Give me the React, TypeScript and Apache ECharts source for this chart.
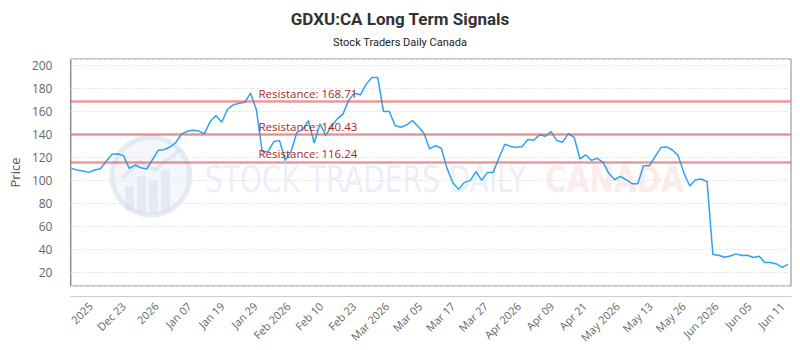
import React, { useEffect, useRef } from 'react';
import * as echarts from 'echarts';

const prices = [
  110.5, 109.1, 108.2, 107.0, 109.1, 110.2, 116.5, 122.7, 123.3, 121.6,
  110.5, 113.4, 111.0, 109.9, 118.0, 126.2, 126.7, 129.1, 132.6, 140.2,
  142.8, 143.7, 143.1, 140.5, 151.3, 156.5, 150.7, 162.0, 165.8, 167.3,
  168.1, 176.0, 161.5, 125.0, 125.0, 133.7, 134.9, 117.4, 125.0, 141.9,
  144.3, 152.1, 132.6, 149.2, 139.3, 147.2, 153.6, 158.0, 170.2, 176.0,
  174.6, 183.9, 189.7, 189.7, 160.0, 160.0, 147.8, 146.3, 148.4, 152.2,
  146.9, 141.1, 127.4, 130.3, 128.0, 110.5, 98.0, 92.2, 98.3, 99.8,
  107.6, 100.1, 107.0, 107.0, 120.0, 131.5, 129.5, 128.6, 129.5, 135.6,
  135.0, 139.7, 138.5, 142.6, 134.7, 133.3, 140.8, 137.6, 118.7, 122.2,
  117.5, 119.3, 115.8, 106.2, 100.6, 103.5, 100.6, 97.1, 97.1, 112.8,
  112.8, 120.7, 128.6, 129.2, 126.5, 121.6, 106.2, 95.1, 100.6, 101.2,
  98.9, 35.4, 34.8, 33.1, 34.2, 36.0, 34.5, 34.8, 32.8, 34.0,
  28.4, 28.4, 27.2, 24.3, 26.9,
];

const tickLabels = [
  '2025', 'Dec 23', '2026', 'Jan 07', 'Jan 19', 'Jan 29', 'Feb 2026', 'Feb 10',
  'Feb 23', 'Mar 2026', 'Mar 05', 'Mar 17', 'Mar 27', 'Apr 2026', 'Apr 09',
  'Apr 21', 'May 2026', 'May 13', 'May 26', 'Jun 2026', 'Jun 05', 'Jun 11',
];

const firstTick = 3.3;
const tickStep = 5.7;
const tickValues = tickLabels.map((_, k) => +(firstTick + tickStep * k).toFixed(3));

const resistance = [168.71, 140.43, 116.24];

const FONT = '"Open Sans", sans-serif';
const WM_FONT = '"DejaVu Sans Condensed", "Liberation Sans Narrow", sans-serif';

export default function App() {
  const ref = useRef<HTMLDivElement>(null);
  useEffect(() => {
    if (!ref.current) return;
    const chart = echarts.init(ref.current, undefined, { renderer: 'svg' });
    const labelMap = new Map<number, string>();
    tickValues.forEach((v, k) => labelMap.set(v, tickLabels[k]));
    const n = prices.length;
    chart.setOption({
      animation: false,
      backgroundColor: '#fff',
      textStyle: { fontFamily: FONT },
      title: {
        left: 'center',
        top: 5,
        text: 'GDXU:CA Long Term Signals',
        subtext: 'Stock Traders Daily Canada',
        itemGap: 10,
        textStyle: { fontFamily: 'Roboto, sans-serif', fontSize: 17, fontWeight: 'bold', color: '#333' },
        subtextStyle: { fontFamily: 'Roboto, sans-serif', fontSize: 11, color: '#222' },
      },
      grid: {
        left: 67, top: 59, width: 724, height: 227,
        show: true, borderColor: '#888', borderWidth: 1, backgroundColor: 'transparent',
      },
      graphic: [
        {
          type: 'group', z: 1, silent: true,
          children: [
            { type: 'circle', shape: { cx: 151, cy: 176, r: 39 }, style: { fill: 'rgba(218,226,240,0.3)', stroke: 'rgba(208,218,235,0.5)', lineWidth: 5 } },
            { type: 'rect', shape: { x: 125, y: 186, width: 9, height: 24 }, style: { fill: 'rgba(205,215,235,0.4)' } },
            { type: 'rect', shape: { x: 137, y: 176, width: 9, height: 36 }, style: { fill: 'rgba(205,215,235,0.4)' } },
            { type: 'rect', shape: { x: 149, y: 180, width: 9, height: 33 }, style: { fill: 'rgba(205,215,235,0.4)' } },
            { type: 'rect', shape: { x: 161, y: 170, width: 9, height: 42 }, style: { fill: 'rgba(205,215,235,0.4)' } },
            { type: 'polyline', shape: { points: [[122, 178], [140, 162], [155, 170], [180, 150]] }, style: { stroke: 'rgba(205,215,235,0.45)', lineWidth: 4, fill: 'none' } },
            { type: 'text', x: 205, y: 179, style: { text: 'STOCK TRADERS DAILY', font: '38px ' + WM_FONT, fill: 'rgba(210,220,236,0.45)', verticalAlign: 'middle', align: 'left' }, scaleX: 0.82 },
            { type: 'text', x: 545, y: 179, style: { text: 'CANADA', font: 'bold 38px ' + WM_FONT, fill: 'rgba(248,205,205,0.4)', verticalAlign: 'middle', align: 'left' }, scaleX: 0.86 },
          ],
        },
      ],
      xAxis: {
        type: 'value',
        min: -0.17,
        max: n - 1 + 0.52,
        offset: 10,
        axisLine: { show: true, lineStyle: { color: '#ccc' } },
        axisTick: { show: false },
        splitLine: { show: false },
        axisLabel: {
          customValues: tickValues,
          rotate: 45,
          fontSize: 11,
          color: '#666',
          margin: 8,
          formatter: (v: number) => labelMap.get(+v.toFixed(3)) ?? '',
        },
      },
      yAxis: {
        type: 'value',
        min: 8,
        max: 205.8,
        splitNumber: 10,
        offset: 10,
        name: 'Price',
        nameLocation: 'middle',
        nameGap: 34,
        nameTextStyle: { fontSize: 13, color: '#555' },
        axisLine: { show: true, lineStyle: { color: '#ccc' } },
        axisTick: { show: false },
        axisLabel: { fontSize: 12, color: '#666', showMinLabel: false, showMaxLabel: false },
        splitLine: { show: true, lineStyle: { color: '#e8e8e8', type: 'dashed' } },
      },
      series: [
        {
          type: 'line',
          data: prices.map((v, i) => [i, v]),
          showSymbol: false,
          symbol: 'none',
          z: 3,
          lineStyle: { color: '#2ea1f2', width: 1.5 },
          markLine: {
            silent: true,
            symbol: 'none',
            lineStyle: { color: 'rgba(225,80,85,0.6)', width: 2.5, type: 'solid' },
            label: {
              show: true,
              position: 'insideStartTop',
              distance: [188, 2],
              formatter: 'Resistance: {c}',
              color: '#a52a2a',
              fontSize: 11.5,
            },
            data: resistance.map((r) => ({ yAxis: r })),
          },
        },
      ],
    });
    return () => chart.dispose();
  }, []);
  return <div ref={ref} style={{ width: 800, height: 350, position: 'fixed', left: 0, top: 0 }} />;
}
